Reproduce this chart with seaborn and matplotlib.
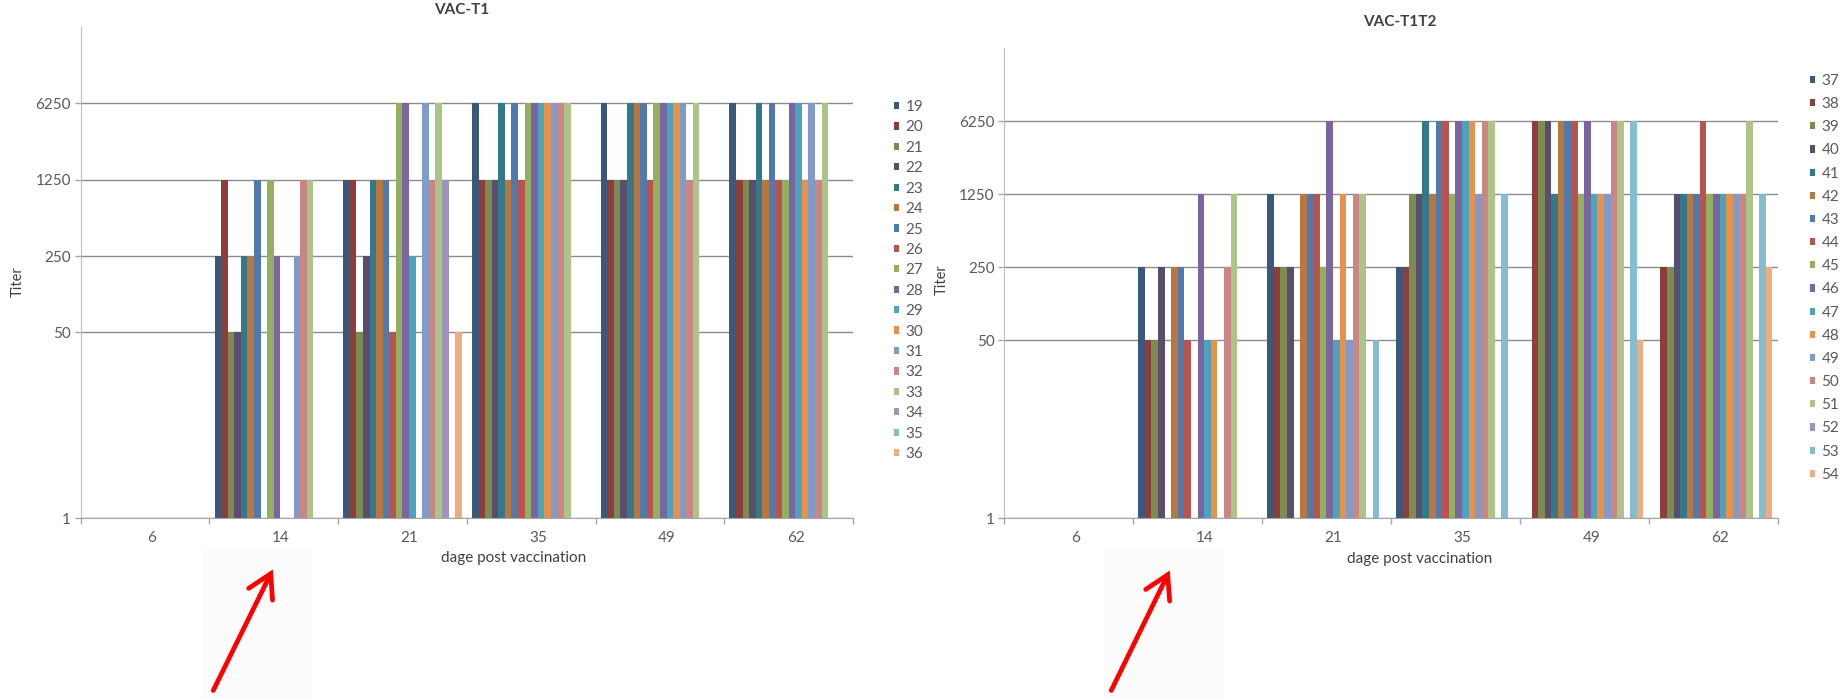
import numpy as np
import pandas as pd
import matplotlib
matplotlib.use("Agg")
import matplotlib.pyplot as plt
import matplotlib.transforms as mtransforms
from matplotlib.patches import FancyArrowPatch, Rectangle
from matplotlib.ticker import FixedLocator, NullLocator, FixedFormatter, NullFormatter
import seaborn as sns

# ---------------- data ----------------
days = ["6", "14", "21", "35", "49", "62"]
yticks = [1, 50, 250, 1250, 6250]
ytick_labels = ["1", "50", "250", "1250", "6250"]

t1_animals = [str(i) for i in range(19, 37)]
t1_day6 = [1] * 18
t1_day14 = [250, 1250, 50, 50, 250, 250, 1250, 1, 1250, 250, 1, 1, 250, 1250, 1250, 1, 1, 1]
t1_day21 = [1250, 1250, 50, 250, 1250, 1250, 1250, 50, 6250, 6250, 250, 1, 6250, 1250, 6250, 1250, 1, 50]
t1_day35 = [6250, 1250, 1250, 1250, 6250, 1250, 6250, 1250, 6250, 6250, 6250, 6250, 6250, 6250, 6250, 1, 1, 1]
t1_day49 = [6250, 1250, 1250, 1250, 6250, 6250, 6250, 1250, 6250, 6250, 6250, 6250, 6250, 1250, 6250, 1, 1, 1]
t1_day62 = [6250, 1250, 1250, 1250, 6250, 1250, 6250, 1250, 1250, 6250, 6250, 1250, 6250, 1250, 6250, 1, 1, 1]

t2_animals = [str(i) for i in range(37, 55)]
t2_day6 = [1] * 18
t2_day14 = [250, 50, 50, 250, 1, 250, 250, 50, 1, 1250, 50, 50, 1, 250, 1250, 1, 1, 1]
t2_day21 = [1250, 250, 250, 250, 1, 1250, 1250, 1250, 250, 6250, 50, 1250, 50, 1250, 1250, 1, 50, 1]
t2_day35 = [250, 250, 1250, 1250, 6250, 1250, 6250, 6250, 1250, 6250, 6250, 6250, 1250, 6250, 6250, 1, 1250, 1]
t2_day49 = [1, 6250, 6250, 6250, 1250, 6250, 6250, 6250, 1250, 6250, 1250, 1250, 1250, 6250, 6250, 1, 6250, 50]
t2_day62 = [1, 250, 250, 1250, 1250, 1250, 1250, 6250, 1250, 1250, 1250, 1250, 1250, 1250, 6250, 1, 1250, 250]

colors = ["#3A5879", "#8B3E3B", "#7C8C50", "#5A4D6E", "#34798A", "#B9763F",
          "#5079AE", "#B8534F", "#93B05E", "#7A65A0", "#4DA3BC", "#E8914C",
          "#7F9CC8", "#C98684", "#ACC488", "#A093BB", "#86BDCE", "#EDAD82"]

# ---------------- style ----------------
sns.set_style("white")
plt.rcParams["font.family"] = ["Lato", "DejaVu Sans"]
TXT = "#595959"

W, H = 1845, 698
fig = plt.figure(figsize=(W / 100, H / 100), dpi=100)
fig.patch.set_facecolor("white")

def fx(px):
    return px / W

def fy(py):
    return 1 - py / H

# very faint background patches behind arrows
fig.add_artist(Rectangle((fx(202), fy(698)), 110 / W, 152 / H, transform=fig.transFigure,
                         facecolor="#FCFCFC", edgecolor="none", zorder=0))
fig.add_artist(Rectangle((fx(1104), fy(698)), 120 / W, 152 / H, transform=fig.transFigure,
                         facecolor="#FCFCFC", edgecolor="none", zorder=0))


def panel(rect, animals, day_values, title, title_xy, xlabel_xy, ylabel_xy, legend_xy, lspacing):
    ax = fig.add_axes(rect)
    df = pd.DataFrame({
        "day": np.repeat(days, len(animals)),
        "animal": animals * len(days),
        "titer": np.concatenate([np.asarray(v, dtype=float) for v in day_values]),
    })
    sns.barplot(data=df, x="day", y="titer", hue="animal", order=days, hue_order=animals,
                palette=colors, width=0.92, gap=0, saturation=1, errorbar=None,
                edgecolor="none", linewidth=0, ax=ax)
    ax.set_yscale("log")
    ax.set_ylim(1, 31250)
    ax.set_xlim(-0.5, 5.5)
    ax.yaxis.set_major_locator(FixedLocator(yticks))
    ax.yaxis.set_major_formatter(FixedFormatter(ytick_labels))
    ax.yaxis.set_minor_locator(NullLocator())
    ax.tick_params(axis="y", which="major", direction="out", length=4, width=1,
                   color="#A6A6A6", labelsize=11, labelcolor=TXT, pad=3, left=True)
    # x ticks: marks at category boundaries, labels at centres
    ax.xaxis.set_major_locator(FixedLocator(np.arange(-0.5, 6.0, 1.0)))
    ax.xaxis.set_major_formatter(NullFormatter())
    ax.xaxis.set_minor_locator(FixedLocator(np.arange(6)))
    ax.xaxis.set_minor_formatter(FixedFormatter(days))
    ax.tick_params(axis="x", which="major", direction="out", length=4, width=1,
                   color="#A6A6A6", bottom=True)
    ax.tick_params(axis="x", which="minor", length=0, labelsize=11, labelcolor=TXT, pad=9)
    offset = mtransforms.ScaledTranslation(7 / 100, 0, fig.dpi_scale_trans)
    for lab in ax.xaxis.get_minorticklabels():
        lab.set_transform(lab.get_transform() + offset)
    ax.grid(axis="y", which="major", color="#8C8C8C", linewidth=1.0)
    ax.grid(axis="x", visible=False)
    ax.set_axisbelow(True)
    for s in ["top", "right"]:
        ax.spines[s].set_visible(False)
    ax.spines["left"].set_color("#BFBFBF")
    ax.spines["bottom"].set_color("#A6A6A6")
    ax.set_xlabel("")
    ax.set_ylabel("")

    handles, labels = ax.get_legend_handles_labels()
    if ax.get_legend() is not None:
        ax.get_legend().remove()
    fig.legend(handles, labels, loc="upper left",
               bbox_to_anchor=(fx(legend_xy[0]), fy(legend_xy[1])),
               bbox_transform=fig.transFigure, frameon=False, fontsize=11,
               handlelength=0.35, handleheight=0.35, handletextpad=0.4,
               labelspacing=lspacing, borderpad=0, borderaxespad=0, labelcolor=TXT)

    fig.text(fx(title_xy[0]), fy(title_xy[1]), title, ha="center", va="center",
             fontsize=11, fontweight="bold", color="#404040")
    fig.text(fx(xlabel_xy[0]), fy(xlabel_xy[1]), "dage post vaccination", ha="center",
             va="center", fontsize=11, color="#404040")
    fig.text(fx(ylabel_xy[0]), fy(ylabel_xy[1]), "Titer", ha="center", va="center",
             rotation=90, fontsize=10.5, color="#404040")
    return ax


ax1 = panel([fx(80.7), fy(518), (853 - 80.7) / W, (518 - 27) / H],
            t1_animals, [t1_day6, t1_day14, t1_day21, t1_day35, t1_day49, t1_day62],
            "VAC-T1", (462, 10), (514, 558), (18, 282), (894, 100), 0.42)
ax2 = panel([fx(1004.3), fy(518), (1777.5 - 1004.3) / W, (518 - 48) / H],
            t2_animals, [t2_day6, t2_day14, t2_day21, t2_day35, t2_day49, t2_day62],
            "VAC-T1T2", (1400, 22), (1420, 559), (942, 280), (1810, 74), 0.6)

# red arrows pointing at day 14
for tail, head in [((212, 693), (274, 567)), ((1110, 693), (1171, 568))]:
    arr = FancyArrowPatch((fx(tail[0]), fy(tail[1])), (fx(head[0]), fy(head[1])),
                          transform=fig.transFigure, arrowstyle="->,head_length=0.55,head_width=0.32",
                          mutation_scale=30, color="#FF0000", lw=3.4, capstyle="round",
                          joinstyle="miter")
    fig.add_artist(arr)

fig.savefig("out.png", dpi=100, facecolor="white")
